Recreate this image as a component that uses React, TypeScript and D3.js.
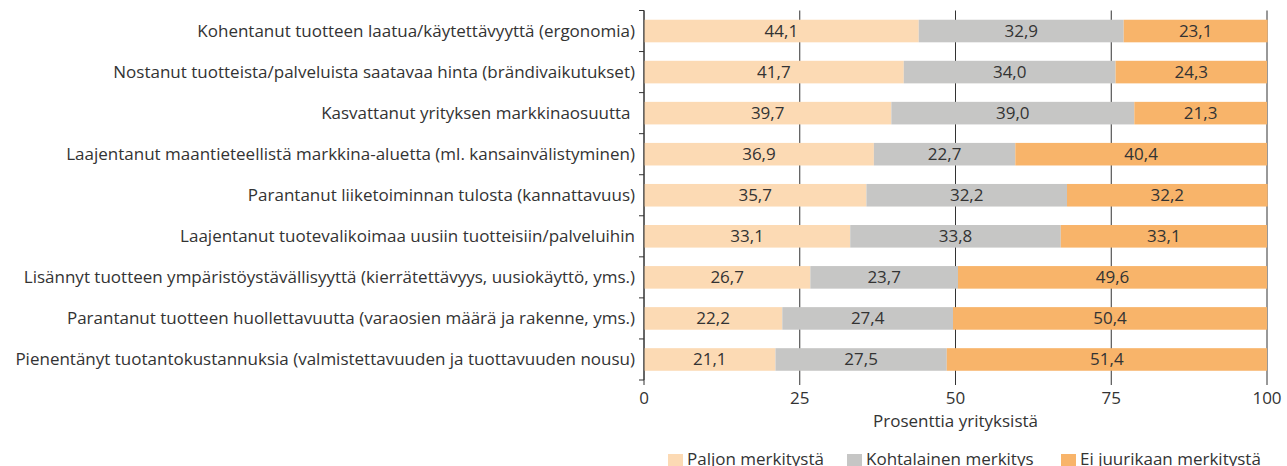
import React from "react";
import * as d3 from "d3";

const categories = [
  "Kohentanut tuotteen laatua/käytettävyyttä (ergonomia)",
  "Nostanut tuotteista/palveluista saatavaa hinta (brändivaikutukset)",
  "Kasvattanut yrityksen markkinaosuutta ",
  "Laajentanut maantieteellistä markkina-aluetta (ml. kansainvälistyminen)",
  "Parantanut liiketoiminnan tulosta (kannattavuus)",
  "Laajentanut tuotevalikoimaa uusiin tuotteisiin/palveluihin",
  "Lisännyt tuotteen ympäristöystävällisyyttä (kierrätettävyys, uusiokäyttö, yms.)",
  "Parantanut tuotteen huollettavuutta (varaosien määrä ja rakenne, yms.)",
  "Pienentänyt tuotantokustannuksia (valmistettavuuden ja tuottavuuden nousu)",
];
const paljon = [44.1, 41.7, 39.7, 36.9, 35.7, 33.1, 26.7, 22.2, 21.1];
const kohtalainen = [32.9, 34.0, 39.0, 22.7, 32.2, 33.8, 23.7, 27.4, 27.5];
const eiJuurikaan = [23.1, 24.3, 21.3, 40.4, 32.2, 33.1, 49.6, 50.4, 51.4];
const seriesNames = ["Paljon merkitystä", "Kohtalainen merkitys", "Ei juurikaan merkitystä"];
const seriesColors = ["#FCDAB4", "#C6C6C5", "#F8B46A"];
const xTicks = [0, 25, 50, 75, 100];
const xTitle = "Prosenttia yrityksistä";

const W = 1287;
const H = 466;
const FONT = "'Open Sans', 'Noto Sans', sans-serif";
const TEXT = "#333333";
const FS = 17;

export default function App() {
  const x = d3.scaleLinear().domain([0, 100]).range([644, 1267]);
  const y = d3.scaleBand<string>().domain(categories).range([10.5, 380]).paddingInner(0.45).paddingOuter(0.225);
  const rows = categories.map((c, i) => ({ c, vals: [paljon[i], kohtalainen[i], eiJuurikaan[i]] }));
  const stack = d3.stack<any>().keys(["0", "1", "2"]).value((d, k) => d.vals[+k]);
  const stacked = stack(rows);
  const boundaries = d3.range(categories.length + 1).map((i) => 10.5 + i * y.step());
  const fmt = (v: number) => v.toFixed(1).replace(".", ",");
  const legendX = [668, 847, 1061];

  return (
    <svg width={W} height={H} style={{ position: "absolute", left: 0, top: 0 }} fontFamily={FONT}>
      {xTicks.map((t) => (
        <line key={t} x1={x(t)} x2={x(t)} y1={10.5} y2={385} stroke="#333" strokeWidth={1} />
      ))}
      {stacked.map((s, si) =>
        s.map((d, i) => (
          <rect
            key={si + "-" + i}
            x={x(d[0])}
            width={x(d[1]) - x(d[0])}
            y={y(categories[i])!}
            height={y.bandwidth()}
            fill={seriesColors[si]}
          />
        ))
      )}
      {stacked.map((s, si) =>
        s.map((d, i) => (
          <text
            key={"t" + si + "-" + i}
            x={(x(d[0]) + x(d[1])) / 2}
            y={y(categories[i])! + y.bandwidth() / 2}
            dy="0.35em"
            textAnchor="middle"
            fontSize={FS}
            fill={TEXT}
          >
            {fmt(rows[i].vals[si])}
          </text>
        ))
      )}
      <line x1={644} x2={644} y1={10.5} y2={380} stroke="#333" />
      {boundaries.map((b, i) => (
        <line key={"b" + i} x1={639} x2={644} y1={b} y2={b} stroke="#333" />
      ))}
      {categories.map((c) => (
        <text
          key={c}
          x={635}
          y={y(c)! + y.bandwidth() / 2}
          dy="0.35em"
          textAnchor="end"
          fontSize={FS}
          fill={TEXT}
          style={{ whiteSpace: "pre" }}
        >
          {c}
        </text>
      ))}
      {xTicks.map((t) => (
        <text key={"x" + t} x={x(t)} y={404} textAnchor="middle" fontSize={FS} fill={TEXT}>
          {t}
        </text>
      ))}
      <text x={x(50)} y={427} textAnchor="middle" fontSize={FS} fill={TEXT}>
        {xTitle}
      </text>
      {seriesNames.map((n, i) => (
        <g key={n}>
          <rect x={legendX[i]} y={454} width={15} height={15} fill={seriesColors[i]} />
          <text x={legendX[i] + 19} y={465} fontSize={FS} fill={TEXT}>
            {n}
          </text>
        </g>
      ))}
    </svg>
  );
}
